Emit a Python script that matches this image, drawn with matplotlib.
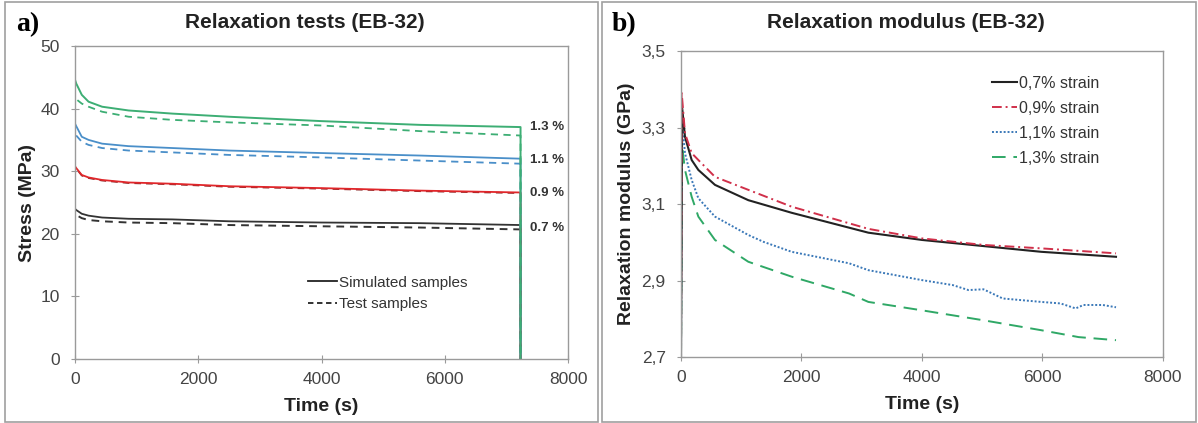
#relaxation tests and relaxation modulus of EB-32, two panels side by side
import numpy as np
import matplotlib
matplotlib.use("Agg")
import matplotlib.pyplot as plt
from matplotlib.lines import Line2D

plt.rcParams['font.family'] = ['Liberation Sans', 'DejaVu Sans']

# ---- panel a) stress vs time ----
t_a = [0, 0, 20, 110, 220, 440, 870, 1580, 2500, 4000, 5600, 7230, 7230]

green_sim = [0, 44.6, 44.0, 42.2, 41.1, 40.3, 39.7, 39.2, 38.7, 38.0, 37.4, 37.05, 0]
green_test = [0, 41.8, 41.5, 40.8, 40.3, 39.5, 38.7, 38.2, 37.8, 37.3, 36.4, 35.7, 0]
blue_sim = [0, 37.6, 37.2, 35.5, 35.0, 34.4, 34.0, 33.7, 33.3, 32.9, 32.5, 32.0, 0]
blue_test = [0, 36.0, 35.7, 34.7, 34.2, 33.7, 33.3, 33.0, 32.6, 32.2, 31.7, 31.2, 0]
red_sim = [0, 30.8, 30.5, 29.4, 29.0, 28.6, 28.2, 28.0, 27.6, 27.3, 26.9, 26.6, 0]
red_test = [0, 30.7, 30.4, 29.3, 28.9, 28.5, 28.1, 27.9, 27.5, 27.2, 26.8, 26.5, 0]
black_sim = [0, 24.0, 23.8, 23.2, 22.9, 22.6, 22.4, 22.3, 22.0, 21.8, 21.7, 21.4, 0]
black_test = [0, 23.2, 23.0, 22.5, 22.2, 22.0, 21.8, 21.7, 21.4, 21.2, 21.0, 20.7, 0]

strain_labels = ['1.3 %', '1.1 %', '0.9 %', '0.7 %']
strain_label_y = [37.0, 31.8, 26.5, 20.9]

# ---- panel b) relaxation modulus vs time ----
t_07 = [0, 20, 66, 177, 288, 564, 1117, 1837, 3110, 4000, 5020, 5980, 7220]
E_07 = [2.7, 3.35, 3.276, 3.215, 3.189, 3.15, 3.11, 3.077, 3.025, 3.006, 2.99, 2.975, 2.962]
t_09 = [0, 10, 66, 177, 288, 564, 1117, 1837, 3110, 4000, 5020, 5980, 7220]
E_09 = [2.7, 3.394, 3.285, 3.233, 3.215, 3.171, 3.137, 3.093, 3.035, 3.01, 2.993, 2.984, 2.971]
t_11 = [0, 15, 66, 177, 288, 564, 1117, 1370, 1837, 2790, 3110, 4000, 4510,
        4770, 5020, 5340, 5980, 6300, 6550, 6680, 7000, 7220]
E_11 = [2.7, 3.32, 3.233, 3.163, 3.115, 3.067, 3.019, 3.001, 2.975, 2.945, 2.927,
        2.901, 2.888, 2.875, 2.877, 2.853, 2.844, 2.84, 2.827, 2.836, 2.836, 2.83]
t_13 = [0, 20, 66, 177, 288, 564, 1117, 1837, 2790, 3110, 4000, 5020, 5980, 6600, 7220]
E_13 = [2.7, 3.25, 3.189, 3.119, 3.067, 3.006, 2.949, 2.91, 2.866, 2.844, 2.822,
        2.796, 2.77, 2.752, 2.744]

W, H = 1198, 423
fig = plt.figure(figsize=(W / 100, H / 100), dpi=100)

green = '#3dae74'
blue = '#4a8fc9'
red = '#e0262a'
tickc = '#444444'
spinec = '#9a9a9a'


def style(ax):
    for s in ax.spines.values():
        s.set_color(spinec)
        s.set_linewidth(1.0)
    ax.tick_params(direction='inout', length=6, color=spinec, labelsize=12.5,
                   labelcolor=tickc)
    ax.tick_params(axis='x', pad=6)
    ax.tick_params(axis='y', pad=8)


# panel a
ax1 = fig.add_axes([75 / W, 1 - 359 / H, 493 / W, 313 / H])
ax1.plot(t_a, black_test, color='#333333', ls=(0, (4, 3)), lw=1.4)
ax1.plot(t_a, black_sim, color='#333333', lw=1.3)
ax1.plot(t_a, red_test, color='#8a2a2a', ls=(0, (4, 3)), lw=1.2)
ax1.plot(t_a, red_sim, color=red, lw=1.3)
ax1.plot(t_a, blue_test, color=blue, ls=(0, (4, 3)), lw=1.3)
ax1.plot(t_a, blue_sim, color=blue, lw=1.3)
ax1.plot(t_a, green_test, color=green, ls=(0, (4, 3)), lw=1.3)
ax1.plot(t_a, green_sim, color=green, lw=1.4)
ax1.set_xlim(0, 8000)
ax1.set_ylim(0, 50)
ax1.set_xticks([0, 2000, 4000, 6000, 8000])
ax1.set_yticks([0, 10, 20, 30, 40, 50])
style(ax1)
ax1.set_xlabel('Time (s)', fontsize=14, fontweight='bold', color='#222222', labelpad=8)
ax1.set_ylabel('Stress (MPa)', fontsize=14, fontweight='bold', color='#222222', labelpad=3)
for lab, y in zip(strain_labels, strain_label_y):
    ax1.text(7390, y, lab, fontsize=9.5, fontweight='bold', color='#333333', va='center')
leg_handles = [Line2D([], [], color='#222222', lw=1.3),
               Line2D([], [], color='#222222', lw=1.3, ls=(0, (3, 2)))]
ax1.legend(leg_handles, ['Simulated samples', 'Test samples'], frameon=False,
           loc='upper left', bbox_to_anchor=(0.445, 0.31), fontsize=11,
           handlelength=1.9, handletextpad=0.1, labelspacing=0.5,
           labelcolor='#333333')

# panel b
ax2 = fig.add_axes([681 / W, 1 - 357 / H, 482 / W, 306 / H])
ax2.plot(t_13, E_13, color='#2fa866', ls=(0, (7, 4)), lw=1.4, label='1,3% strain')
ax2.plot(t_11, E_11, color='#3a78b8', ls=(0, (1, 1)), lw=1.4, label='1,1% strain')
ax2.plot(t_07, E_07, color='#222222', lw=1.5, label='0,7% strain')
ax2.plot(t_09, E_09, color='#d0304a', ls=(0, (5, 2, 1, 2)), lw=1.4, label='0,9% strain')
ax2.set_xlim(0, 8000)
ax2.set_ylim(2.7, 3.5)
ax2.set_xticks([0, 2000, 4000, 6000, 8000])
ax2.set_yticks([2.7, 2.9, 3.1, 3.3, 3.5])
ax2.set_yticklabels(['2,7', '2,9', '3,1', '3,3', '3,5'])
style(ax2)
ax2.set_xlabel('Time (s)', fontsize=14, fontweight='bold', color='#222222', labelpad=8)
ax2.set_ylabel('Relaxation modulus (GPa)', fontsize=14, fontweight='bold', color='#222222', labelpad=5)
h, l = ax2.get_legend_handles_labels()
order = [2, 3, 1, 0]
ax2.legend([h[i] for i in order], [l[i] for i in order], frameon=False,
           loc='upper left', bbox_to_anchor=(0.615, 0.965), fontsize=11.5,
           handlelength=1.6, handletextpad=0.1, labelspacing=0.62,
           labelcolor='#333333')

# titles and panel letters
fig.text(305 / W, 1 - 22 / H, 'Relaxation tests (EB-32)', ha='center', va='center',
         fontsize=15, fontweight='bold', color='#222222')
fig.text(906 / W, 1 - 22 / H, 'Relaxation modulus (EB-32)', ha='center', va='center',
         fontsize=15, fontweight='bold', color='#222222')
fig.text(16 / W, 1 - 25 / H, 'a)', ha='left', va='center', fontsize=20,
         fontweight='bold', family='Liberation Serif')
fig.text(612 / W, 1 - 25 / H, 'b)', ha='left', va='center', fontsize=20,
         fontweight='bold', family='Liberation Serif')

# panel borders
for x0, x1 in [(5, 598), (602, 1196)]:
    fig.add_artist(plt.Rectangle((x0 / W, 1 / H), (x1 - x0) / W, (H - 3) / H,
                                 transform=fig.transFigure, fill=False,
                                 edgecolor='#a0a0a0', lw=1.2))

fig.savefig('out.png', dpi=100)
